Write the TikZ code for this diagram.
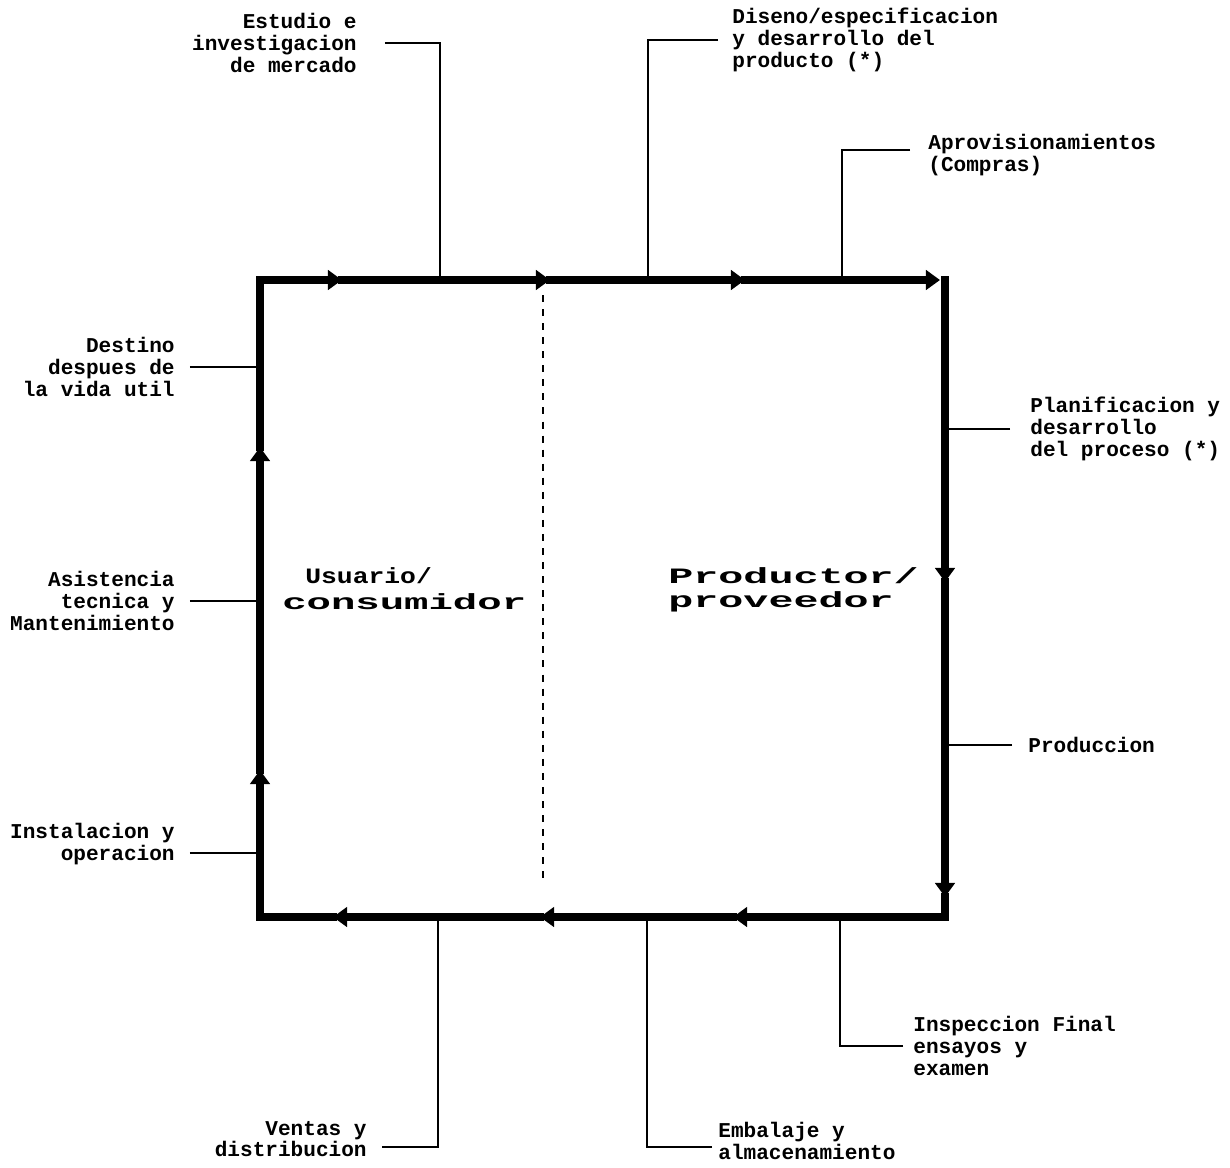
\documentclass[tikz,border=0pt]{standalone}
\usepackage{fontspec}
\setmonofont{Liberation Mono}
\usetikzlibrary{arrows.meta}
\begin{document}
\begin{tikzpicture}[x=0.02cm,y=-0.02cm,
  flow/.style={line width=4.2pt, line cap=rect},
  flowa/.style={flow, -{Triangle[length=8pt,width=11pt]}},
  tick/.style={line width=1.1pt},
  lbl/.style={font=\ttfamily\bfseries\fontsize{12}{12.5}\selectfont, inner sep=0pt},
  big/.style={font=\ttfamily\bfseries\fontsize{12.5}{12.5}\selectfont, inner sep=0pt}]
\fill[white] (0,0) rectangle (1230,1167);
\useasboundingbox (0,0) rectangle (1230,1167);

% corners and arrow tip points
\coordinate (TL) at (260,280);
\coordinate (TR) at (945,280);
\coordinate (BR) at (945,917);
\coordinate (BL) at (260,917);
\coordinate (a1) at (342,280);
\coordinate (a2) at (550,280);
\coordinate (a3) at (745,280);
\coordinate (a4) at (940,280);
\coordinate (r1) at (945,582);
\coordinate (r2) at (945,897);
\coordinate (b1) at (733,917);
\coordinate (b2) at (540,917);
\coordinate (b3) at (333,917);
\coordinate (l1) at (260,770);
\coordinate (l2) at (260,447);

% main loop
\draw[flowa] (TL) -- (a1);
\draw[flowa] (a1) -- (a2);
\draw[flowa] (a2) -- (a3);
\draw[flowa] (a3) -- (a4);
\draw[flowa] (TR) -- (r1);
\draw[flowa] (r1) -- (r2);
\draw[flow] (r2) -- (BR);
\draw[flowa] (BR) -- (b1);
\draw[flowa] (b1) -- (b2);
\draw[flowa] (b2) -- (b3);
\draw[flow] (b3) -- (BL);
\draw[flowa] (BL) -- (l1);
\draw[flowa] (l1) -- (l2);
\draw[flow] (l2) -- (TL);

% dashed divider
\coordinate (d1) at (543,295);
\coordinate (d2) at (543,882);
\draw[line width=0.9pt, dash pattern=on 4pt off 4pt] (d1) -- (d2);

% central labels
\node[big, anchor=west] (usuario) at (305,576) {\scalebox{1.2}[1]{Usuario/}};
\node[big, anchor=west] (consumidor) at (282,602) {\scalebox{1.85}[1]{consumidor}};
\node[big, anchor=west] (productor) at (668,576) {\scalebox{1.9}[1]{Productor/}};
\node[big, anchor=west] (proveedor) at (668,602) {\scalebox{1.9}[1]{proveedor}};

% top labels
\node[lbl, anchor=east, align=right] (estudio) at (357,43) {Estudio e\\investigacion\\de mercado};
\coordinate (p1) at (440,280);
\draw[tick] ([xshift=0.56cm]estudio.east) -| (p1);

\node[lbl, anchor=west, align=left] (diseno) at (732,40) {Diseno/especificacion\\y desarrollo del\\producto (*)};
\coordinate (p2) at (648,280);
\draw[tick] ([xshift=-0.28cm]diseno.west) -| (p2);

\node[lbl, anchor=west, align=left, font=\ttfamily\bfseries\fontsize{12}{8}\selectfont] (aprov) at (928,155) {Aprovisionamientos\\(Compras)};
\coordinate (p3) at (842,280);
\draw[tick] ([xshift=-0.36cm,yshift=0.1cm]aprov.west) -| (p3);

% right labels
\node[lbl, anchor=west, align=left] (plan) at (1030,429) {Planificacion y\\desarrollo\\del proceso (*)};
\draw[tick] ([xshift=-0.4cm]plan.west) -- (plan.west -| TR);

\node[lbl, anchor=west] (prod) at (1028,745) {Produccion};
\draw[tick] ([xshift=-0.32cm]prod.west) -- (prod.west -| TR);

% bottom labels
\node[lbl, anchor=west, align=left] (insp) at (913,1046) {Inspeccion Final\\ensayos y\\examen};
\coordinate (q1) at (840,917);
\draw[tick] ([xshift=-0.2cm]insp.west) -| (q1);

\node[lbl, anchor=west, align=left, font=\ttfamily\bfseries\fontsize{12}{10}\selectfont] (emb) at (718,1141) {Embalaje y\\almacenamiento};
\coordinate (q2) at (647,917);
\draw[tick] ([xshift=-0.12cm,yshift=-0.12cm]emb.west) -| (q2);

\node[lbl, anchor=east, align=right, font=\ttfamily\bfseries\fontsize{12}{10}\selectfont] (ventas) at (367,1139) {Ventas y\\distribucion};
\coordinate (q3) at (438,917);
\draw[tick] ([xshift=0.3cm,yshift=-0.16cm]ventas.east) -| (q3);

% left labels
\node[lbl, anchor=east, align=right] (inst) at (175,844) {Instalacion y\\operacion};
\draw[tick] ([xshift=0.3cm,yshift=-0.18cm]inst.east) -- ([yshift=-0.18cm]inst.east -| BL);

\node[lbl, anchor=east, align=right] (asist) at (175,601) {Asistencia\\tecnica y\\Mantenimiento};
\draw[tick] ([xshift=0.3cm]asist.east) -- (asist.east -| BL);

\node[lbl, anchor=east, align=right] (destino) at (175,367) {Destino\\despues de\\la vida util};
\draw[tick] ([xshift=0.3cm]destino.east) -- (destino.east -| BL);
\end{tikzpicture}
\end{document}
